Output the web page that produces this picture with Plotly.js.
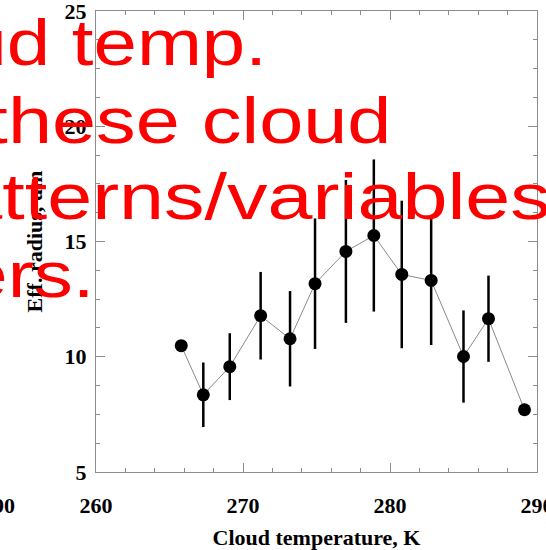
<!DOCTYPE html>
<html>
<head>
<meta charset="utf-8">
<script src="https://cdn.plot.ly/plotly-3.0.1.min.js"></script>
<style>
  html, body { margin: 0; padding: 0; background: #fff; }
  #chart { width: 546px; height: 550px; }
</style>
</head>
<body>
<div id="chart"></div>
<script>
// Mean effective radius by cloud-top temperature bin
const cloudTemp = [265.8, 267.3, 269.1, 271.2, 273.2, 274.9, 277.0, 278.9, 280.8, 282.8, 285.0, 286.7, 289.15];
const effRadius = [10.48, 8.35, 9.57, 11.78, 10.78, 13.17, 14.57, 15.26, 13.57, 13.31, 10.01, 11.65, 7.70];
const radiusErr = [0, 1.4, 1.45, 1.9, 2.07, 2.83, 3.1, 3.3, 3.2, 2.8, 2.0, 1.87, 0];

// Red note lines overlaid on the panel
const noteLines = ["ud temp.", "these cloud", "atterns/variables", "ers."];

const W = 546, H = 550;
const M = { l: 96, r: 9, t: 11, b: 78 };
const pw = W - M.l - M.r, ph = H - M.t - M.b;
const px = x => (x - M.l) / pw;          // pixel -> paper x
const py = y => 1 - (y - M.t) / ph;      // pixel -> paper y

const serif = { family: "Liberation Serif, Times New Roman, serif", size: 22, color: "#000", weight: "bold" };
const frame = "#8c8c8c";

const trace = {
  x: cloudTemp,
  y: effRadius,
  type: "scatter",
  mode: "lines+markers",
  line: { color: "#8a8a8a", width: 1 },
  marker: { color: "#000", size: 13 },
  error_y: { type: "data", array: radiusErr, visible: true, color: "#000", thickness: 2.5, width: 0 },
  showlegend: false,
  hoverinfo: "skip"
};

const noteFont = { family: "Liberation Sans, Arial, sans-serif", size: 65, color: "#ff0000", weight: "normal" };
// [right-edge x pixel, centre y pixel, horizontal stretch]
const notePos = [[269, 42.5, 1.2], [393, 120.5, 1.22], [553, 196, 1.245], [96, 274.5, 1.2]];

const annotations = noteLines.map((t, i) => ({
  text: t, xref: "paper", yref: "paper",
  x: px(notePos[i][0]), y: py(notePos[i][1]),
  xanchor: "right", yanchor: "middle",
  showarrow: false, font: noteFont
}));

// neighbouring panel's last x tick label
annotations.unshift({
  text: "290", xref: "paper", yref: "paper",
  x: px(17), y: py(505), xanchor: "right", yanchor: "middle",
  showarrow: false, font: serif
});

const layout = {
  width: W, height: H,
  margin: M,
  paper_bgcolor: "#fff", plot_bgcolor: "#fff",
  font: serif,
  xaxis: {
    range: [260, 290], dtick: 10, tick0: 260,
    showgrid: false, zeroline: false,
    showline: true, linecolor: frame, linewidth: 1, mirror: "ticks",
    ticks: "inside", ticklen: 9, tickcolor: frame, tickwidth: 1,
    minor: { dtick: 2, ticks: "inside", ticklen: 4, tickcolor: frame, tickwidth: 1, showgrid: false },
    tickfont: serif, ticklabelstandoff: 14, ticklabeloverflow: "allow",
    title: { text: "Cloud temperature, K", font: serif, standoff: 12 }
  },
  yaxis: {
    range: [5, 25], dtick: 5, tick0: 5,
    showgrid: false, zeroline: false,
    showline: true, linecolor: frame, linewidth: 1, mirror: "ticks",
    ticks: "inside", ticklen: 9, tickcolor: frame, tickwidth: 1,
    minor: { dtick: 1.25, ticks: "inside", ticklen: 4, tickcolor: frame, tickwidth: 1, showgrid: false },
    tickfont: serif, ticklabelstandoff: 4, ticklabeloverflow: "allow",
    title: { text: "Eff. radius, um", font: serif, standoff: 15 }
  },
  annotations: annotations
};

Plotly.newPlot("chart", [trace], layout, { staticPlot: true, displayModeBar: false }).then(gd => {
  // widen the red note glyphs horizontally, keeping each line's right edge fixed
  gd.querySelectorAll("g.annotation").forEach(g => {
    const idx = +g.getAttribute("data-index");
    if (idx < 1) return;
    const txt = g.querySelector("text");
    if (!txt) return;
    const bb = txt.getBBox();
    const anchor = bb.x + bb.width;
    const s = notePos[idx - 1][2];
    txt.setAttribute("transform",
      "translate(" + anchor + ",0) scale(" + s + ",1) translate(" + (-anchor) + ",0)");
  });
});
</script>
</body>
</html>
